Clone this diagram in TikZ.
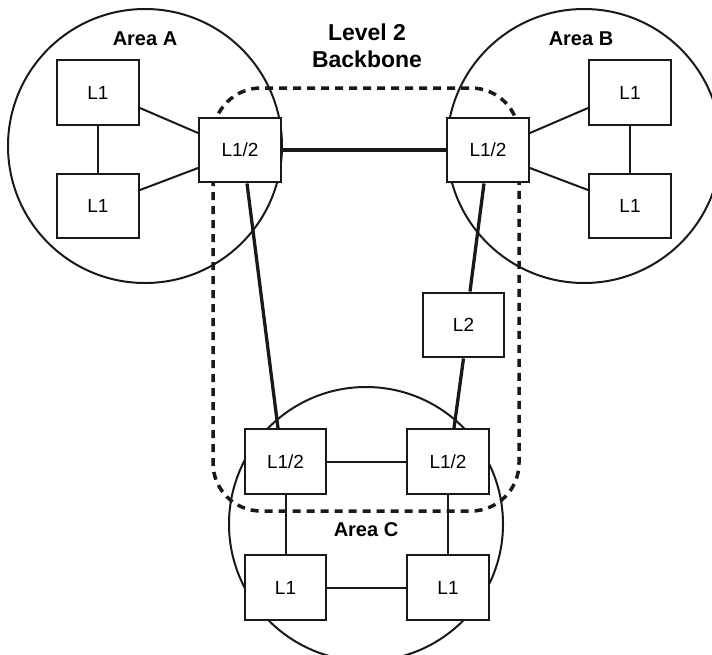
\documentclass[tikz,border=0pt]{standalone}
\usepackage{fontspec}
\setmainfont{Liberation Sans}
\begin{document}
\begin{tikzpicture}[x=1pt,y=-1pt,
  router/.style={draw=black!90,line width=2.4pt,minimum width=81.5pt,minimum height=64.5pt,inner sep=0pt,font=\fontsize{19}{19}\selectfont,fill=white},
  area/.style={draw=black!90,line width=2pt},
  thin/.style={draw=black!90,line width=2pt},
  thick/.style={draw=black!90,line width=3.3pt},
  bbone/.style={draw=black!90,line width=3.5pt,dash pattern=on 8pt off 6pt,rounded corners=48pt},
  arealabel/.style={font=\bfseries\fontsize{20}{20}\selectfont},
]
\useasboundingbox (0,0) rectangle (712,654);
\clip (0,0) rectangle (712,654);
% areas
\draw[area] (145,146) circle (137);
\draw[area] (584,146) circle (137);
\draw[area] (366,524) circle (137);
% backbone
\draw[bbone] (213,88) rectangle (519,511);
% labels
\node[arealabel] (la) at (145,39) {Area A};
\node[arealabel] (lb) at (581,39) {Area B};
\node[arealabel] (lc) at (366,530) {Area C};
\node[font=\bfseries\fontsize{23}{27}\selectfont,align=center] (lbb) at (367,46) {Level 2\\Backbone};
% routers
\node[router] (a1) at (98,92.5) {L1};
\node[router] (a2) at (98,206) {L1};
\node[router] (a12) at (240,150) {L1/2};
\node[router] (b12) at (488,150) {L1/2};
\node[router] (b1) at (630,92.5) {L1};
\node[router] (b2) at (630,206) {L1};
\node[router] (l2) at (463.5,325) {L2};
\node[router] (c12l) at (285.5,461.5) {L1/2};
\node[router] (c12r) at (448,461.5) {L1/2};
\node[router] (c1l) at (285.5,587.5) {L1};
\node[router] (c1r) at (448,587.5) {L1};
% area A links
\draw[thin] (a1) -- (a2);
\draw[thin] ([yshift=-15.5pt]a1.east) -- ([yshift=17pt]a12.west);
\draw[thin] ([yshift=16pt]a2.east) -- ([yshift=-18pt]a12.west);
% area B links
\draw[thin] (b1) -- (b2);
\draw[thin] ([yshift=-15.5pt]b1.west) -- ([yshift=17pt]b12.east);
\draw[thin] ([yshift=16pt]b2.west) -- ([yshift=-18pt]b12.east);
% area C links
\draw[thin] (c12l) -- (c12r);
\draw[thin] (c1l) -- (c1r);
\draw[thin] (c12l) -- (c1l);
\draw[thin] (c12r) -- (c1r);
% backbone links
\draw[thick] (a12) -- (b12);
\draw[thick] ([xshift=7pt]a12.south) -- ([xshift=-7.5pt]c12l.north);
\draw[thick] ([xshift=-4pt]b12.south) -- ([xshift=6.5pt]l2.north);
\draw[thick] (l2.south) -- ([xshift=6pt]c12r.north);
\end{tikzpicture}
\end{document}
